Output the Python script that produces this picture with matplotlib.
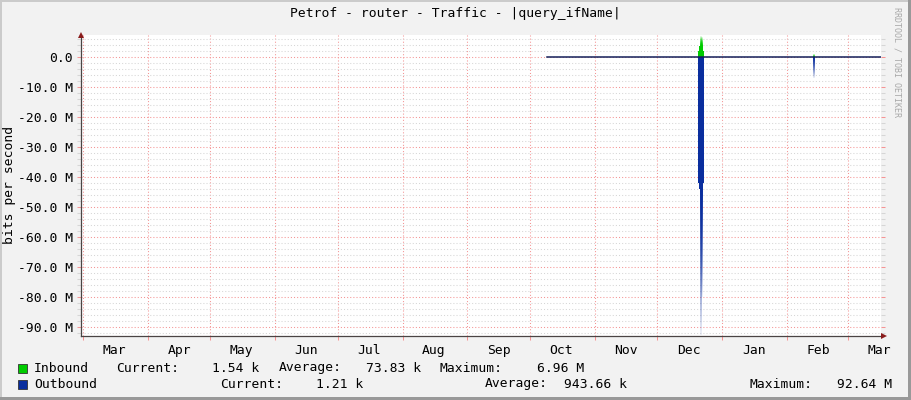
import numpy as np
import matplotlib
matplotlib.use("Agg")
import matplotlib.pyplot as plt
import matplotlib.dates as mdates
from matplotlib.ticker import MultipleLocator, FuncFormatter, NullFormatter
from matplotlib.patches import Rectangle
import datetime as dt

plt.rcParams['font.family'] = ['DejaVu Sans Mono']

# ---------------- data ----------------
title = "Petrof - router - Traffic - |query_ifName|"
ylabel = "bits per second"
x_start = "2015-02-28 01:00"
x_end = "2016-03-17 00:00"

# breakpoints (value holds from this time to the next), values in Mbit/s
times = ["2015-10-09 00:00", "2015-12-20 12:00", "2015-12-21 00:00", "2015-12-21 12:00",
         "2015-12-22 00:00", "2015-12-22 12:00", "2015-12-23 00:00", "2015-12-23 12:00",
         "2016-02-13 06:00", "2016-02-14 00:00", "2016-03-17 00:00"]
inbound = [0.0015, 2.0, 3.7, 6.96, 6.5, 3.7, 2.0, 0.0015, 0.8, 0.0015, 0.0015]
outbound = [-0.0012, -42.0, -44.0, -92.64, -80.0, -44.0, -42.0, -0.0012, -7.0, -0.0012, -0.0012]

legend_colors = ["#00CC00", "#0A2E9E"]
legend_rows = [
    [("Inbound", 34), ("Current:", 116), ("1.54 k", 212), ("Average:", 279), ("73.83 k", 366),
     ("Maximum:", 440), ("6.96 M", 537)],
    [("Outbound", 34), ("Current:", 220), ("1.21 k", 316), ("Average:", 485), ("943.66 k", 564),
     ("Maximum:", 750), ("92.64 M", 837)],
]

# ---------------- figure ----------------
W, H = 911, 400
fig = plt.figure(figsize=(W / 100, H / 100), dpi=100)
fig.patch.set_facecolor("#F2F2F2")

L, R, T, B = 81, 881, 35, 336
ax = fig.add_axes([L / W, 1 - B / H, (R - L) / W, (B - T) / H])
ax.set_facecolor("white")

def pdate(s):
    return mdates.date2num(dt.datetime.strptime(s, "%Y-%m-%d %H:%M"))

tx = np.array([pdate(s) for s in times])
vin = np.array(inbound)
vout = np.array(outbound)

green, blue = legend_colors

def solid_levels(v):
    n = len(v)
    lev = np.zeros(n)
    for i in range(n):
        w = np.abs(v[max(0, i - 2):min(n, i + 3)])
        lev[i] = np.sign(v[i]) * min(abs(v[i]), np.median(w))
    return lev

def draw_series(v, color, z):
    lev = solid_levels(v)
    ax.fill_between(tx, 0, lev, step="post", color=color, linewidth=0, zorder=z)
    rgb = matplotlib.colors.to_rgb(color)
    for i in range(len(v) - 1):
        if abs(v[i]) > abs(lev[i]) + 1e-9:
            n = 64
            u = np.linspace(0, 1, n)
            alpha = 1 - 0.93 * u ** 1.3
            img = np.zeros((n, 1, 4))
            img[:, 0, :3] = rgb
            if v[i] < 0:
                img[:, 0, 3] = alpha
                ext = (tx[i], tx[i + 1], v[i], lev[i])
            else:
                img[:, 0, 3] = alpha[::-1]
                ext = (tx[i], tx[i + 1], lev[i], v[i])
            ax.imshow(img, extent=ext, origin="upper", aspect="auto",
                      interpolation="bilinear", zorder=z)

draw_series(vout, blue, 3)
draw_series(vin, green, 4)

base = np.where(np.abs(vout) < 1, vout, 0.0)
ax.step(tx, base, where="post", color="#14205A", lw=1.1, zorder=5)

ax.xaxis_date()
ax.set_xlim(pdate(x_start), pdate(x_end))
ax.set_ylim(-93.0, 7.33)

ax.yaxis.set_major_locator(MultipleLocator(10))
ax.yaxis.set_minor_locator(MultipleLocator(2))
ax.yaxis.set_major_formatter(FuncFormatter(lambda v, p: "0.0" if abs(v) < 1e-9 else f"{v:.1f} M"))

ax.xaxis.set_major_locator(mdates.MonthLocator(bymonthday=1))
ax.xaxis.set_major_formatter(NullFormatter())
ax.xaxis.set_minor_locator(mdates.MonthLocator(bymonthday=16))
ax.xaxis.set_minor_formatter(mdates.DateFormatter("%b"))

gridred = (0.96, 0.58, 0.58)
gridgray = (0.84, 0.84, 0.84)
ax.yaxis.grid(True, which="major", color=gridred, lw=0.75, ls=(0, (1, 2)), zorder=1)
ax.yaxis.grid(True, which="minor", color=gridgray, lw=0.75, ls=(0, (1, 2)), zorder=1)
ax.xaxis.grid(True, which="major", color=gridred, lw=0.75, ls=(0, (1, 2)), zorder=1)
ax.xaxis.grid(False, which="minor")
ax.set_axisbelow(True)

ax.tick_params(axis="y", which="major", direction="out", length=3, width=0.75, color=gridred,
               labelsize=9.4, pad=3, right=True, labelright=False)
ax.tick_params(axis="y", which="minor", direction="out", length=3, width=0.75, color=gridgray,
               right=True)
ax.tick_params(axis="x", which="major", direction="out", length=3, width=0.75, color=gridred)
ax.tick_params(axis="x", which="minor", length=0, labelsize=9.4, pad=6)

for s in ["top", "right"]:
    ax.spines[s].set_visible(False)
for s in ["left", "bottom"]:
    ax.spines[s].set_color("#4A4444")
    ax.spines[s].set_linewidth(0.9)
    ax.spines[s].set_zorder(6)

ax.plot([0], [1.0], marker="^", ms=5, color="#8A1C1C", transform=ax.transAxes,
        clip_on=False, zorder=7, markeredgewidth=0)
ax.plot([1.004], [0.0], marker=">", ms=5, color="#8A1C1C", transform=ax.transAxes,
        clip_on=False, zorder=7, markeredgewidth=0)

def ftext(x, y, s, **kw):
    fig.text(x / W, 1 - y / H, s, **kw)

ftext(455, 14, title, ha="center", va="center", fontsize=9.4)
ftext(10, 185, ylabel, ha="center", va="center", rotation=90, fontsize=9.4)
ftext(897, 62, "RRDTOOL / TOBI OETIKER", ha="center", va="center", rotation=270,
      fontsize=6, color="#A8A8A8")

for items, color, yc in zip(legend_rows, legend_colors, [368, 384]):
    fig.patches.append(Rectangle((18 / W, 1 - (yc + 5) / H), 9 / W, 9 / H,
                                 transform=fig.transFigure, facecolor=color,
                                 edgecolor="#333333", lw=0.6))
    for s, x in items:
        ftext(x, yc, s, ha="left", va="center", fontsize=9.4)

fig.patches.append(Rectangle((0, 1 - 2 / H), 1, 2 / H, transform=fig.transFigure,
                             facecolor="#CBCBCB", lw=0))
fig.patches.append(Rectangle((0, 0), 2 / W, 1, transform=fig.transFigure,
                             facecolor="#CBCBCB", lw=0))
fig.patches.append(Rectangle((1 - 3 / W, 0), 3 / W, 1, transform=fig.transFigure,
                             facecolor="#999999", lw=0))
fig.patches.append(Rectangle((0, 0), 1, 3 / H, transform=fig.transFigure,
                             facecolor="#999999", lw=0))

fig.savefig("out.png", dpi=100, facecolor=fig.get_facecolor())
